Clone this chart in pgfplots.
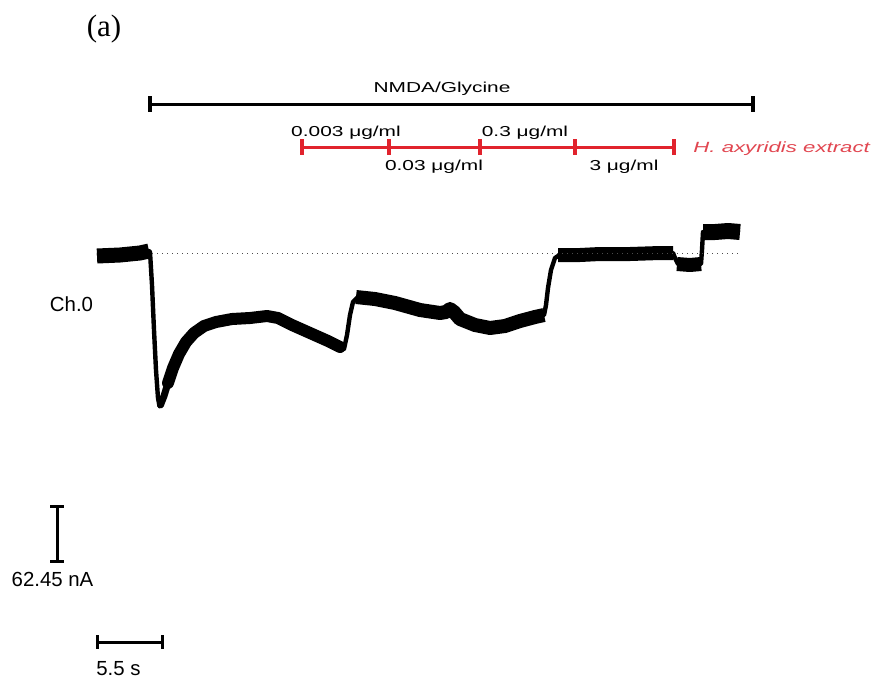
\documentclass[border=0pt]{standalone}
\usepackage{pgfplots}
\pgfplotsset{compat=1.18}
\usepackage{graphicx}
\usepackage{fontspec}
\setmainfont{Liberation Sans}
\newfontfamily\seriffont{Liberation Serif}
\definecolor{barred}{RGB}{225,35,45}
\definecolor{txtred}{RGB}{225,70,80}
\newcommand{\toplab}[1]{\scalebox{1.45}[1]{\fontsize{7.2}{8}\selectfont #1}}
\begin{document}
\begin{tikzpicture}
\begin{axis}[
  scale only axis, width=436.5pt, height=340.5pt,
  xmin=0, xmax=873, ymin=0, ymax=681, y dir=reverse,
  hide axis, clip=false,
]
\path (axis cs:0,0) rectangle (axis cs:873,681);
% ---- trace: thin full path
\addplot[black, line width=2.2pt, line join=round] coordinates {
(97,255) (120,254) (140,253) (149,251) (150,252) (152,285) (154,330) (156,370) (158,398) (159.5,406) (161,405) (164,396) (168,383) (173,368) (179,354) (186,342) (194,333) (204,326) (216,322) (232,319) (250,318) (267,316) (278,318) (292,325) (310,333) (328,341) (342,348) (344,349) (347,335) (350,315) (353,302) (358,297) (375,299) (395,303) (420,310) (440,313) (446,312) (450,309) (454,312) (460,319) (475,325) (490,328) (505,326) (520,321) (535,317) (544,315) (546,305) (548,288) (551,270) (555,258) (561,254) (580,255) (600,254) (630,254) (660,253) (673,253) (675,258) (678,264) (690,265) (701,264) (702,250) (703,232) (715,232) (728,231) (740,232)};
% ---- thick noisy sections
\addplot[black, line width=7.5pt, line cap=butt, line join=round] coordinates {(97,256) (120,255) (140,253) (149,251)};
\addplot[black, line width=3.5pt, line cap=round, line join=round] coordinates {(160.5,405) (164,396) (168,383)};
\addplot[black, line width=6pt, line cap=round, line join=round] coordinates {(168,383) (173,368) (179,354) (186,342) (194,333) (204,326) (216,322) (232,319) (250,318) (267,316) (278,318) (292,325) (310,333) (328,341) (340,347)};
\addplot[black, line width=7pt, line cap=butt, line join=round] coordinates {(356,297) (375,299) (395,303) (420,310) (440,313) (446,312) (450,309) (454,312) (460,319) (475,325) (490,328) (505,326) (520,321) (535,317) (544,315)};
\addplot[black, line width=7pt, line cap=butt, line join=round] coordinates {(558,255) (580,255) (600,254) (630,254) (660,253) (673,253)};
\addplot[black, line width=7pt, line cap=butt, line join=round] coordinates {(677,264) (690,265) (701,264)};
\addplot[black, line width=8pt, line cap=butt, line join=round] coordinates {(703,232) (715,232) (728,231) (740,232)};
% ---- dotted baseline
\addplot[black!70, line width=0.5pt, dotted] coordinates {(152,253) (738,253)};
% ---- NMDA/Glycine bar
\addplot[black, line width=1.5pt] coordinates {(150,104) (753,104)};
\addplot[black, line width=2pt] coordinates {(150,96) (150,112)};
\addplot[black, line width=2pt] coordinates {(753,96) (753,112)};
\node[anchor=base] at (axis cs:442,92) {\toplab{NMDA/Glycine}};
% ---- extract bar
\addplot[barred, line width=1.5pt] coordinates {(302,147) (674,147)};
\addplot[barred, line width=2pt] coordinates {(302,139) (302,155)};
\addplot[barred, line width=2pt] coordinates {(389,139) (389,155)};
\addplot[barred, line width=2pt] coordinates {(480,139) (480,155)};
\addplot[barred, line width=2pt] coordinates {(575,139) (575,155)};
\addplot[barred, line width=2pt] coordinates {(674,139) (674,155)};
\node[anchor=base] at (axis cs:346,136) {\toplab{0.003 μg/ml}};
\node[anchor=base] at (axis cs:525,136) {\toplab{0.3 μg/ml}};
\node[anchor=base] at (axis cs:434,170.5) {\toplab{0.03 μg/ml}};
\node[anchor=base] at (axis cs:624,170.5) {\toplab{3 μg/ml}};
\node[anchor=base west, inner xsep=0pt, text=txtred] at (axis cs:693,152.5) {\scalebox{1.5}[1]{\fontsize{7.4}{8}\selectfont\itshape H. axyridis extract}};
% ---- labels
\node[anchor=base] at (axis cs:104,36) {\seriffont\fontsize{15.5}{17}\selectfont (a)};
\node[anchor=base] at (axis cs:71.5,311.5) {\fontsize{10.2}{12}\selectfont Ch.0};
% ---- scale bars
\addplot[black, line width=1.5pt] coordinates {(57,506) (57,561)};
\addplot[black, line width=1.5pt] coordinates {(50,506) (64,506)};
\addplot[black, line width=1.5pt] coordinates {(50,561) (64,561)};
\node[anchor=base] at (axis cs:52.5,586.5) {\fontsize{10.2}{12}\selectfont 62.45 nA};
\addplot[black, line width=1.5pt] coordinates {(97,642) (162,642)};
\addplot[black, line width=1.5pt] coordinates {(97,635) (97,649)};
\addplot[black, line width=1.5pt] coordinates {(162,635) (162,649)};
\node[anchor=base] at (axis cs:118.5,675) {\fontsize{10.2}{12}\selectfont 5.5 s};
\end{axis}
\end{tikzpicture}
\end{document}
